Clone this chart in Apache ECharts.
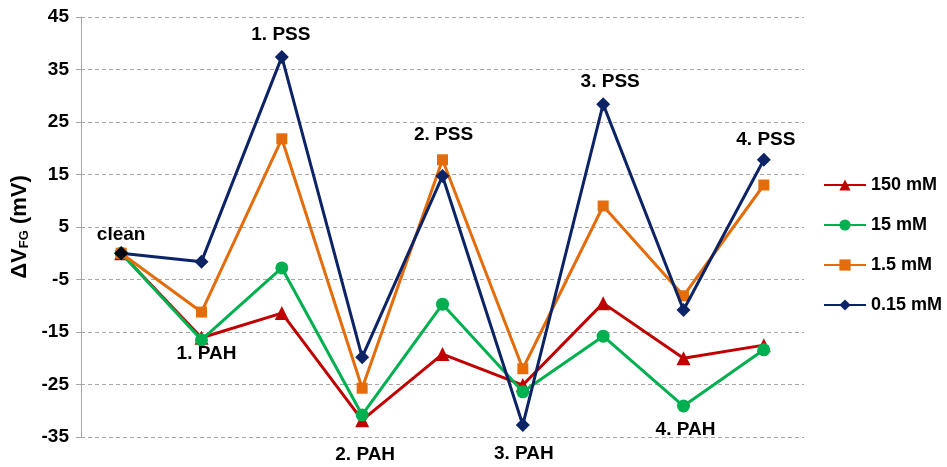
<!DOCTYPE html>
<html><head><meta charset="utf-8">
<script src="https://cdn.jsdelivr.net/npm/echarts@6/dist/echarts.min.js"></script>
<style>html,body{margin:0;padding:0;background:#fff}#c{width:947px;height:467px}</style>
</head><body><div id="c"></div>
<script>
var categories = ['clean','1. PAH','1. PSS','2. PAH','2. PSS','3. PAH','3. PSS','4. PAH','4. PSS'];
var seriesNames = ['150 mM','15 mM','1.5 mM','0.15 mM'];
var v150 = [0, -16.1, -11.4, -31.8, -19.2, -25.1, -9.5, -20.0, -17.5];
var v15 = [0, -16.5, -2.8, -30.8, -9.7, -26.4, -15.8, -29.1, -18.4];
var v1_5 = [0, -11.2, 21.8, -25.7, 17.8, -22.0, 9.0, -8.1, 13.0];
var v0_15 = [0, -1.6, 37.4, -19.8, 14.7, -32.7, 28.4, -10.8, 17.8];
var yTicks = [-35,-25,-15,-5,5,15,25,35,45];
// which series carries each annotation label, and where
var labelSeries = [3, 1, 3, 0, 2, 3, 3, 1, 3];
var labelPos = ['top','bottom','top','bottom','top','bottom','top','bottom','top'];

var colors = ['#C00000','#00B050','#E46C0A','#0C2366'];
var symbols = ['triangle','circle','rect','diamond'];
var sizes = [14,13,11,14];
var allData = [v150, v15, v1_5, v0_15];
var FONT = 'Liberation Sans, Arial';
var labelFont = {fontFamily:FONT, fontWeight:'bold', fontSize:19, color:'#000'};
var labelDist = [2, -2, 6, 18, 10, 12, 6, 8, 4];
var labelDx = [0, 5, -1, 3, 1, 1, 7, 2, 2];

var series = allData.map(function(arr, si){
  return {
    name: seriesNames[si], type:'line', data: arr.map(function(v, i){
      var item = {value: v};
      if (labelSeries[i] === si) {
        item.label = Object.assign({show:true, position: labelPos[i], distance: labelDist[i], offset:[labelDx[i],0], formatter: categories[i]}, labelFont);
      }
      return item;
    }),
    symbol: symbols[si], symbolSize: sizes[si],
    lineStyle:{color:colors[si], width:3}, itemStyle:{color:colors[si]},
    z: 2+si, animation:false
  };
});
series.push({
  name:'cleanMark', type:'scatter', data:[[categories[0], v0_15[0]]],
  symbol:'diamond', symbolSize:14, itemStyle:{color:'#000'}, z:10, animation:false, silent:true
});

var chart = echarts.init(document.getElementById('c'));
chart.setOption({
  animation:false,
  grid:{left:81, right:143, top:17, bottom:30, containLabel:false},
  legend:{
    data: seriesNames, orient:'vertical', left:818, top:171, itemGap:22, itemWidth:42, itemHeight:14,
    textStyle:{fontFamily:FONT, fontWeight:'bold', fontSize:18, color:'#000'}
  },
  xAxis:{type:'category', data:categories, boundaryGap:true,
    axisLine:{show:false}, axisTick:{show:false}, axisLabel:{show:false}, splitLine:{show:false}},
  yAxis:{type:'value', min:yTicks[0], max:yTicks[yTicks.length-1], interval:10,
    axisLine:{show:true, lineStyle:{color:'#A6A6A6', width:1}},
    axisTick:{show:true, length:5, lineStyle:{color:'#A6A6A6'}},
    axisLabel:{fontFamily:FONT, fontWeight:'bold', fontSize:19, color:'#000', margin:12},
    splitLine:{show:true, lineStyle:{color:'#A6A6A6', type:[4,3], width:1}},
    name:'{a|ΔV}{s|FG}{a| (mV)}', nameLocation:'middle', nameGap:43, nameRotate:90,
    nameTextStyle:{rich:{
      a:{fontFamily:FONT, fontWeight:'bold', fontSize:22, color:'#000'},
      s:{fontFamily:FONT, fontWeight:'bold', fontSize:13, color:'#000', verticalAlign:'bottom', padding:[9,0,0,0]}
    }}
  },
  series: series
});
</script></body></html>
